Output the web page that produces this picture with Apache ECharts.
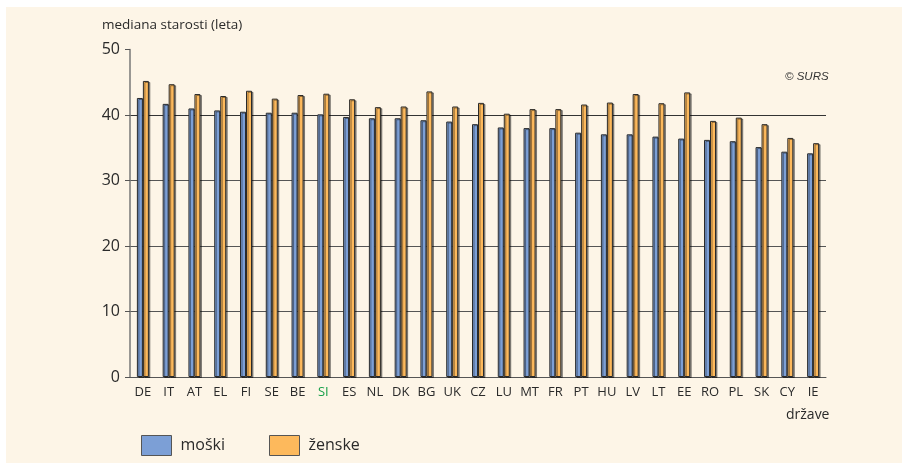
<!DOCTYPE html>
<html>
<head>
<meta charset="utf-8">
<script src="https://cdn.jsdelivr.net/npm/echarts@6/dist/echarts.min.js"></script>
<style>
  html, body { margin: 0; padding: 0; background: #ffffff; }
  #wrap { position: relative; width: 902px; height: 463px; }
  #bg { position: absolute; left: 6px; top: 7px; right: 0; bottom: 0; background: #fdf5e7; }
  #chart { position: absolute; left: 0; top: 0; width: 902px; height: 463px; }
</style>
</head>
<body>
<div id="wrap">
  <div id="bg"></div>
  <div id="chart"></div>
</div>
<script>
// države (EU-27), urejeno po mediani starosti moških
var countries = ["DE", "IT", "AT", "EL", "FI", "SE", "BE", "SI", "ES", "NL", "DK", "BG", "UK", "CZ",
  "LU", "MT", "FR", "PT", "HU", "LV", "LT", "EE", "RO", "PL", "SK", "CY", "IE"];
var moski = [42.6, 41.7, 41.0, 40.7, 40.5, 40.35, 40.35, 40.1, 39.7, 39.5, 39.5, 39.2, 39.0, 38.6,
  38.1, 38.0, 38.0, 37.3, 37.05, 37.05, 36.7, 36.4, 36.2, 36.0, 35.1, 34.4, 34.15];
var zenske = [45.2, 44.7, 43.2, 42.9, 43.7, 42.5, 43.05, 43.25, 42.4, 41.2, 41.3, 43.6, 41.3, 41.85,
  40.2, 40.9, 40.9, 41.6, 41.9, 43.2, 41.8, 43.45, 39.1, 39.6, 38.6, 36.5, 35.7];
var yTicks = [0, 10, 20, 30, 40, 50];

var font = "Open Sans";
var myChart = echarts.init(document.getElementById("chart"));

var barStyle = function (fill) {
  return {
    color: fill,
    borderColor: "#2a2a2a",
    borderWidth: 1,
    shadowColor: "rgba(0,0,0,0.4)",
    shadowBlur: 0,
    shadowOffsetX: 1.5,
    shadowOffsetY: 1,
  };
};

var option = {
  backgroundColor: "transparent",
  animation: false,
  grid: {
    left: 130,
    right: 76,
    top: 49.5,
    bottom: 86,
  },
  legend: {
    left: 141,
    top: 435,
    padding: 0,
    itemWidth: 30,
    itemHeight: 20,
    itemGap: 44,
    icon: "rect",
    data: ["moški", "ženske"],
    textStyle: {
      fontFamily: font,
      fontSize: 16,
      color: "#2a2a2a",
      padding: [0, 0, 0, 4],
    },
    itemStyle: {
      borderColor: "#555",
      borderWidth: 1,
      shadowBlur: 0,
      shadowOffsetX: 0,
      shadowOffsetY: 0,
    },
  },
  xAxis: {
    type: "category",
    data: countries,
    axisTick: { show: false },
    axisLine: { lineStyle: { color: "#555", width: 1 } },
    axisLabel: {
      interval: 0,
      margin: 9,
      fontFamily: font,
      fontSize: 13,
      color: function (value) {
        return value === "SI" ? "#17a04a" : "#2a2a2a";
      },
    },
  },
  yAxis: {
    type: "value",
    min: yTicks[0],
    max: yTicks[yTicks.length - 1],
    interval: 10,
    axisLine: { show: true, lineStyle: { color: "#777", width: 1.5 } },
    axisTick: { show: true, length: 5, lineStyle: { color: "#555" } },
    axisLabel: {
      margin: 10,
      fontFamily: font,
      fontSize: 16,
      color: "#2a2a2a",
    },
    splitLine: {
      show: true,
      lineStyle: {
        color: ["rgba(0,0,0,0)", "#555", "#555", "#555", "#333", "rgba(0,0,0,0)"],
        width: 1.2,
      },
    },
  },
  graphic: [
    {
      type: "text",
      left: 102,
      top: 18,
      style: {
        text: "mediana starosti (leta)",
        fontFamily: font,
        fontSize: 13.5,
        fill: "#2a2a2a",
      },
    },
    {
      type: "text",
      left: 785,
      top: 71,
      style: {
        text: "© SURS",
        fontFamily: "Liberation Sans",
        fontStyle: "italic",
        fontSize: 11.5,
        fill: "#333",
      },
    },
    {
      type: "text",
      left: 786,
      top: 408,
      style: {
        text: "države",
        fontFamily: font,
        fontSize: 14,
        fill: "#2a2a2a",
      },
    },
  ],
  series: [
    {
      name: "moški",
      type: "bar",
      data: moski,
      barWidth: 6,
      barGap: "0%",
      itemStyle: barStyle("#7c9fd6"),
    },
    {
      name: "ženske",
      type: "bar",
      data: zenske,
      barWidth: 6,
      barGap: "0%",
      itemStyle: barStyle("#fdb95c"),
    },
  ],
};
myChart.setOption(option, true);
window.addEventListener("resize", function () {
  myChart.resize();
});
</script>
</body>
</html>
